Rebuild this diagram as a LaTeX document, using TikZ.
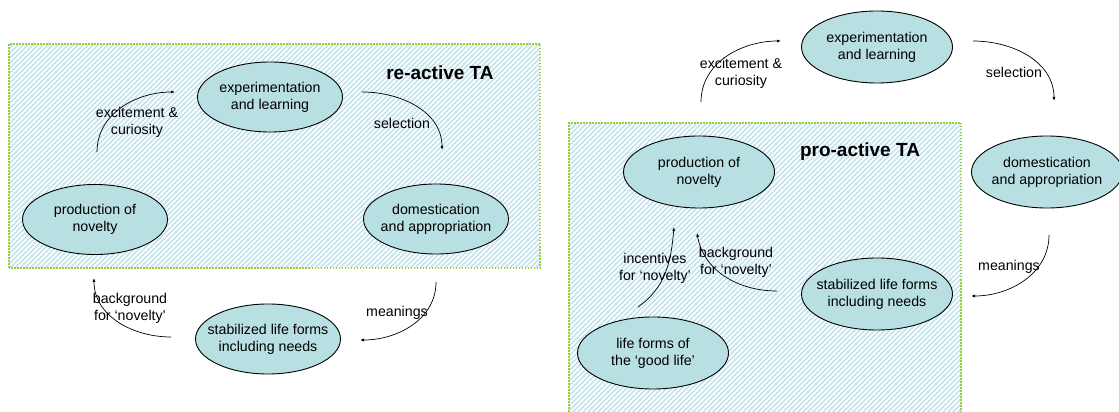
\documentclass[tikz,border=0pt]{standalone}
\usepackage{fontspec}
\setmainfont{Liberation Sans}
\usepackage{xcolor}
\usetikzlibrary{arrows.meta,shapes.geometric}
\definecolor{taStageFill}{RGB}{184,224,227}
\definecolor{taHatch}{RGB}{196,226,236}
\definecolor{taBorder}{RGB}{154,205,50}
\colorlet{stagefill}{taStageFill}
\colorlet{hatchblue}{taHatch}
\colorlet{boxgreen}{taBorder}

\begin{document}
\begin{tikzpicture}[x=1pt,y=1pt,>={Latex[length=4pt,width=3pt]},
  stage/.style={ellipse,draw,line width=0.9pt,fill=stagefill,minimum width=145pt,minimum height=70pt,inner xsep=-10pt,inner ysep=0pt,align=center,font=\fontsize{14.2}{17}\selectfont},
  tabox/.style={draw=boxgreen,line width=1.5pt,dash pattern=on 1.5pt off 1.5pt},
  hatch/.style={draw=hatchblue,line width=1.6pt},
  flow/.style={->,line width=0.7pt},
  flowtext/.style={align=center,inner sep=0pt,font=\fontsize{14.2}{17}\selectfont},
  tatitle/.style={inner sep=0pt,font=\fontsize{19}{22}\selectfont\bfseries}]
\useasboundingbox (0,0) rectangle (1119,412);

% re-active TA
\begin{scope}
\clip (9,144) rectangle (540,368);
\foreach \hx in {-230,-225,...,540}
  \draw[hatch] (\hx,144) -- ++(224,224);
\end{scope}
\draw[tabox] (9,144) rectangle (540,368);
\node[tatitle] (ltitle) at (440,339) {re-active TA};
\node[stage] (lexp) at (270,315) {experimentation\\and learning};
\node[stage] (lprod) at (95,192.5) {production of\\novelty};
\node[stage] (ldom) at (436,193) {domestication\\and appropriation};
\node[stage] (lstab) at (268,73) {stabilized life forms\\including needs};
\coordinate (lexcA) at (97,260);
\coordinate (lexcB) at (175,320);
\coordinate (lselA) at (362,320);
\coordinate (lselB) at (442,262);
\coordinate (lmeaA) at (436,130);
\coordinate (lmeaB) at (360,72);
\coordinate (lbgA) at (171,75);
\coordinate (lbgB) at (94,134);
\draw[flow] (lexcA) to[out=90,in=180] (lexcB);
\draw[flow] (lselA) to[out=0,in=90] (lselB);
\draw[flow] (lmeaA) to[out=-90,in=0] (lmeaB);
\draw[flow] (lbgA) to[out=180,in=-90] (lbgB);
\node[flowtext] (lexc) at (137,290) {excitement \&\\curiosity};
\node[flowtext] (lsel) at (402,289) {selection};
\node[flowtext] (lmea) at (397,99) {meanings};
\node[flowtext] (lbg) at (130,104) {background\\for ‘novelty’};

% pro-active TA
\begin{scope}[stage/.append style={minimum width=151pt,minimum height=72pt}]
\begin{scope}
\clip (569,-3) rectangle (961,289);
\foreach \hx in {-300,-295,...,961}
  \draw[hatch] (\hx,-3) -- ++(292,292);
\end{scope}
\draw[tabox] (569,-3) rectangle (961,289);
\node[tatitle] (rtitle) at (860,260) {pro-active TA};
\node[stage] (rexp) at (877,365) {experimentation\\and learning};
\node[stage] (rprod) at (699,240) {production of\\novelty};
\node[stage] (rdom) at (1047,240) {domestication\\and appropriation};
\node[stage] (rstab) at (877,118) {stabilized life forms\\including needs};
\node[stage] (rgood) at (653,59) {life forms of\\the ‘good life’};
\coordinate (rexcA) at (701,310);
\coordinate (rexcB) at (781,371);
\coordinate (rselA) at (973,371);
\coordinate (rselB) at (1054,311);
\coordinate (rmeaA) at (1049,177);
\coordinate (rmeaB) at (971,116);
\coordinate (rincA) at (638,105);
\coordinate (rincB) at (674,185);
\coordinate (rbgA) at (777,121);
\coordinate (rbgB) at (697,179);
\draw[flow] (rexcA) to[out=90,in=180] (rexcB);
\draw[flow] (rselA) to[out=0,in=90] (rselB);
\draw[flow] (rmeaA) to[out=-90,in=0] (rmeaB);
\draw[flow] (rincA) to[out=35,in=-95] (rincB);
\draw[flow] (rbgA) to[out=180,in=-80] (rbgB);
\node[flowtext] (rexc) at (741,339) {excitement \&\\curiosity};
\node[flowtext] (rsel) at (1014,340) {selection};
\node[flowtext] (rmea) at (1009,145) {meanings};
\node[flowtext] (rinc) at (655,143.5) {incentives\\for ‘novelty’};
\node[flowtext] (rbg) at (736,149.5) {background\\for ‘novelty’};
\end{scope}
\end{tikzpicture}
\end{document}
